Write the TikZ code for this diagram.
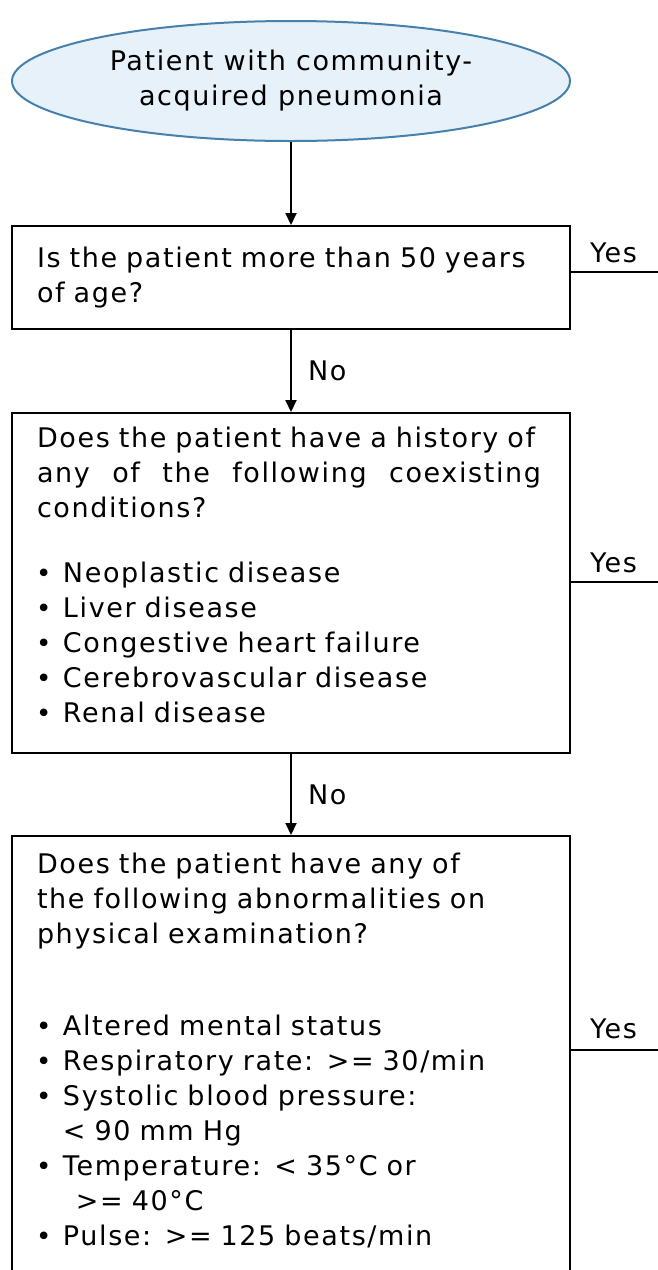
\documentclass[tikz,border=0pt]{standalone}
\usepackage{fontspec}
\setmainfont{DejaVu Sans}[LetterSpace=6]
\usetikzlibrary{shapes.geometric,arrows.meta}
\definecolor{black}{rgb}{0,0,0}
\definecolor{startblue}{RGB}{231,241,249}
\definecolor{edgeblue}{RGB}{70,128,172}
\newcommand{\bul}{\makebox[13pt][l]{\hspace{-0.5pt}\fontsize{13}{13}\selectfont\textbullet}}

\begin{document}
\begin{tikzpicture}[x=0.5pt,y=-0.5pt]
    \def\mx{291}
    \def\tw{252pt}
    \newcounter{i}
    \tikzstyle{every node}=[font=\fontsize{13.5}{17.5}\selectfont]
    \tikzstyle{start}=[ellipse, draw=edgeblue, fill=startblue, line width=1pt, minimum width=279pt, minimum height=60pt, inner sep=0pt, align=center]
    \tikzstyle{question}=[draw, line width=1pt, anchor=north, minimum width=279pt, text width=254pt, inner xsep=12.5pt, align=left]
    \tikzstyle{answer}=[inner sep=0pt]

    \useasboundingbox (0,0) rectangle (658,1270);
    \clip (0,0) rectangle (658,1270);

    \stepcounter{i}\node[start] (\arabic{i}) at (\mx,81) {Patient with community-\\acquired pneumonia};
    \stepcounter{i}\node[question, minimum height=51.5pt] (\arabic{i}) at (\mx,225) {Is the patient more than 50 years\\of age?};
    \stepcounter{i}\node[question, minimum height=170pt] (\arabic{i}) at (\mx,412) {Does the patient have a history of\\
        \leavevmode\hbox to \tw{any\hfill of\hfill the\hfill following\hfill coexisting}\\
        conditions?\\[15pt]
        \bul Neoplastic disease\\
        \bul Liver disease\\
        \bul Congestive heart failure\\
        \bul Cerebrovascular disease\\
        \bul Renal disease\\[-9.5pt]
        \mbox{}};
    \stepcounter{i}\node[question, inner ysep=8.5pt] (\arabic{i}) at (\mx,835) {Does the patient have any of\\
        the following abnormalities on\\
        physical examination?\\[28.5pt]
        \bul Altered mental status\\
        \bul Respiratory rate: >= 30/min\\
        \bul Systolic blood pressure:\\
        \hspace*{13pt}< 90 mm Hg\\
        \bul Temperature: < 35°C or\\
        \hspace*{19.5pt}>= 40°C\\
        \bul Pulse: >= 125 beats/min\\[30pt]
        \mbox{}};

    \coordinate (yes1) at (658,272);
    \coordinate (yes2) at (658,582);
    \coordinate (yes3) at (658,1050);

    \tikzstyle{flow} = [-{Triangle[length=6pt,width=5.5pt]}, line width=1pt]
    \tikzstyle{exit} = [line width=1pt]

          \draw [flow] (1) -- (2);
          \draw [flow] (2) -- node[answer, right, xshift=8pt] (no1) {No} (3);
          \draw [flow] (3) -- node[answer, right, xshift=8pt] (no2) {No} (4);

          \draw [exit] (2.east |- yes1) -- node[answer, pos=0, anchor=base west, xshift=9pt, yshift=5pt] (y1) {Yes} (yes1);
          \draw [exit] (3.east |- yes2) -- node[answer, pos=0, anchor=base west, xshift=9pt, yshift=5pt] (y2) {Yes} (yes2);
          \draw [exit] (4.east |- yes3) -- node[answer, pos=0, anchor=base west, xshift=9pt, yshift=6pt] (y3) {Yes} (yes3);
\end{tikzpicture}
\end{document}
